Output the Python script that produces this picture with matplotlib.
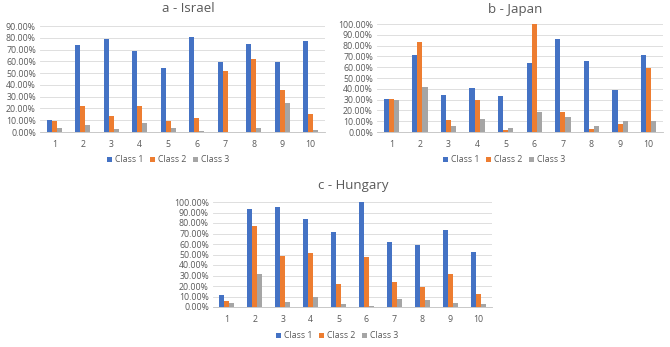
import numpy as np
import matplotlib.pyplot as plt
from matplotlib.ticker import PercentFormatter

plt.rcParams['font.family'] = ['Open Sans', 'DejaVu Sans']

groups = ['1', '2', '3', '4', '5', '6', '7', '8', '9', '10']
series_names = ['Class 1', 'Class 2', 'Class 3']
colors = ['#4472C4', '#ED7D31', '#A5A5A5']

# values in percent
israel_c1 = [10, 74, 79, 68.5, 54.5, 81, 59.5, 75, 59.5, 77]
israel_c2 = [9, 22, 14, 22, 9, 12, 51.5, 62, 36, 15.5]
israel_c3 = [3, 6, 2.5, 8, 3, 1, 0, 3, 25, 1.5]

japan_c1 = [31, 71.5, 34, 41, 33, 63.5, 86, 66, 38.5, 71.5]
japan_c2 = [31, 83, 11.5, 30, 1.5, 100, 18.5, 3, 7.5, 59]
japan_c3 = [30, 42, 6, 12.5, 4, 18.5, 14, 6, 10, 10]

hungary_c1 = [11, 93, 95, 84, 71.5, 100, 62, 59.5, 73, 52.5]
hungary_c2 = [6, 77, 49, 51.5, 21.5, 48, 24, 19, 31, 12.5]
hungary_c3 = [3.5, 31, 4.5, 9.5, 3, 0.5, 7.5, 6.5, 3.5, 3]

W, H = 670, 347
fig = plt.figure(figsize=(W / 100, H / 100), dpi=100)


def px_axes(left, top, right, bottom):
    return fig.add_axes([left / W, 1 - bottom / H, (right - left) / W, (bottom - top) / H])


def panel(ax, data, ymax, title, tx, ty, lx, ly):
    x = np.arange(len(groups))
    bw = 0.18
    handles = []
    for i, (vals, c) in enumerate(zip(data, colors)):
        h = ax.bar(x + (i - 1) * bw, vals, bw, color=c, label=series_names[i], zorder=3)
        handles.append(h)
    ax.set_xlim(-0.5, len(groups) - 0.5)
    ax.set_ylim(0, ymax)
    ax.set_yticks(np.arange(0, ymax + 1, 10))
    ax.yaxis.set_major_formatter(PercentFormatter(decimals=2))
    ax.set_xticks(x)
    ax.set_xticklabels(groups)
    ax.grid(axis='y', color='#D9D9D9', linewidth=0.6, zorder=0)
    for s in ['top', 'right', 'left']:
        ax.spines[s].set_visible(False)
    ax.spines['bottom'].set_color('#BFBFBF')
    ax.spines['bottom'].set_linewidth(0.6)
    ax.tick_params(length=0, labelsize=6.3, colors='#595959', pad=3)
    ax.tick_params(axis='x', pad=6)
    fig.text(tx / W, 1 - ty / H, title, ha='center', va='center', fontsize=9.5, color='#595959')
    fig.legend(handles=handles, loc='center', bbox_to_anchor=(lx / W, 1 - ly / H), ncol=3,
               frameon=False, fontsize=6.3, handlelength=0.6, handleheight=0.6,
               handletextpad=0.3, columnspacing=0.8, labelcolor='#595959')


ax_a = px_axes(40, 26, 325, 132)
panel(ax_a, [israel_c1, israel_c2, israel_c3], 90, 'a - Israel', 188, 9, 168, 160)

ax_b = px_axes(377, 24, 663, 132)
panel(ax_b, [japan_c1, japan_c2, japan_c3], 100, 'b - Japan', 515, 9, 504, 160)

ax_c = px_axes(213, 202, 492, 307)
panel(ax_c, [hungary_c1, hungary_c2, hungary_c3], 100, 'c - Hungary', 353, 185, 337, 336)

fig.savefig('out.png', dpi=100, facecolor='white')
